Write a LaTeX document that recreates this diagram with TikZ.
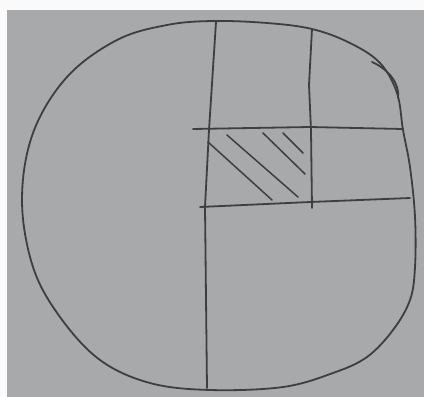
\documentclass[tikz,border=0pt]{standalone}
\usetikzlibrary{positioning}

\definecolor{paper}{RGB}{168,169,170}
\definecolor{lead}{RGB}{62,62,64}

\begin{document}
\begin{tikzpicture}[
  x=1pt, y=-1pt,
  pencil/.style={draw=lead, line width=1.8pt, line cap=round, line join=round},
  hatch/.style={draw=lead, line width=1.5pt, line cap=round}
]

  % Hintergrund: weisser Rand oben/links, graues Papier
  \useasboundingbox (0,0) rectangle (424,397);
  \fill[white!94!paper] (0,0) rectangle (424,397);
  \fill[paper] (7,10) rectangle (424,397);

  % Umriss (handgezeichneter Kreis)
  \draw[pencil] plot[smooth cycle, tension=0.6] coordinates {
    (22,200) (33,133) (67,77) (117,40) (167,25) (213,21) (267,23)
    (312,29) (350,43) (380,63) (397,93) (403,130) (410,167) (415,217)
    (415,267) (410,300) (393,330) (367,357) (333,373) (283,387)
    (210,390) (150,383) (100,360) (60,317) (33,267)};

  % Doppelstrich oben rechts
  \draw[pencil] (372,62) .. controls (390,70) and (400,85) .. (398,98);

  % Senkrechte Linien
  \draw[pencil] (216,22) -- (209,130) -- (205,207) -- (207,388);
  \draw[pencil] (312,29) -- (309,85) -- (311,130) -- (312,208);

  % Waagrechte Linien
  \draw[pencil] (193,129) -- (310,127) -- (403,129);
  \draw[pencil] (200,207) -- (310,202) -- (410,198);

  % Schraffur im Mittelfeld
  \draw[hatch] (208,142) -- (272,200);
  \draw[hatch] (227,135) -- (298,197);
  \draw[hatch] (263,133) -- (305,174);
  \draw[hatch] (283,133) -- (303,153);

\end{tikzpicture}
\end{document}
